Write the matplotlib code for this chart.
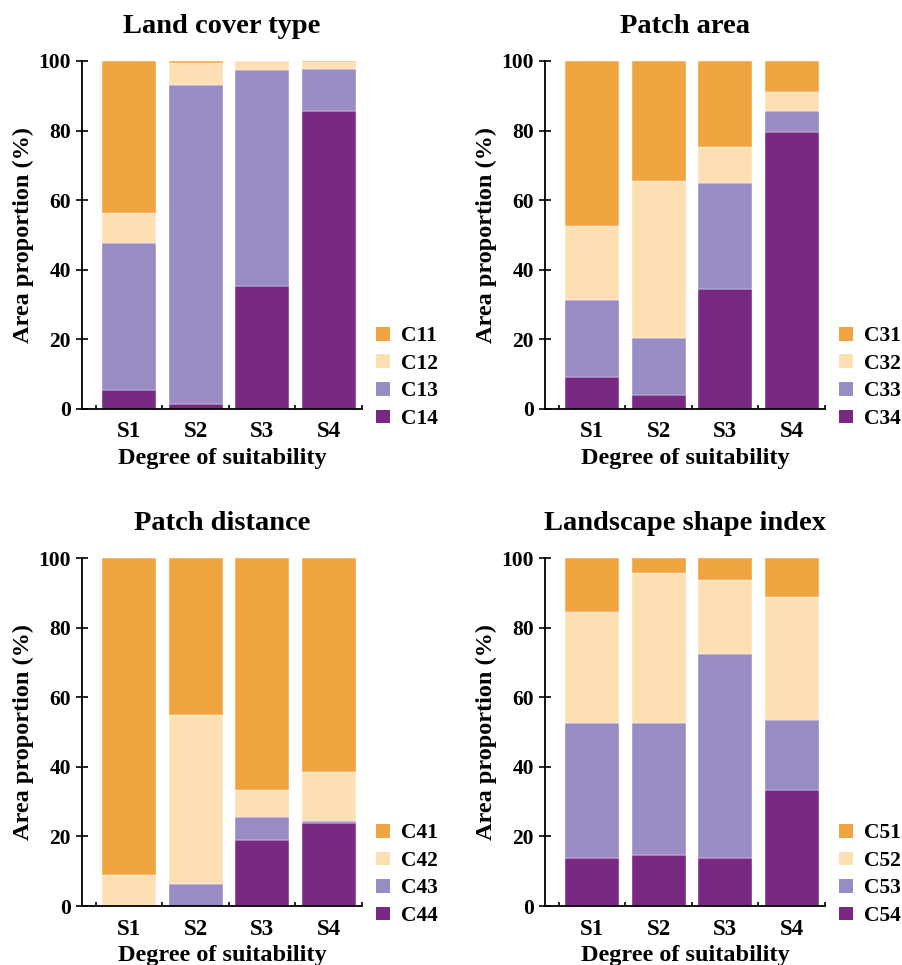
# Stacked area proportion by degree of suitability, four indicators

import numpy as np
import matplotlib.pyplot as plt
from matplotlib.ticker import FixedLocator
from matplotlib.patches import Patch

plt.rcParams['font.family'] = ['Liberation Serif', 'DejaVu Serif']
plt.rcParams['font.weight'] = 'bold'

degrees = ['S1', 'S2', 'S3', 'S4']
colors = ['#F0A440', '#FEDEB3', '#998BC4', '#782A82']  # top -> bottom

# Land cover type (segments listed top to bottom)
land_titles = ['C11', 'C12', 'C13', 'C14']
land_c11 = [43.7, 0.5, 0.0, 0.3]
land_c12 = [8.7, 6.5, 2.6, 2.1]
land_c13 = [42.1, 91.5, 62.0, 11.9]
land_c14 = [5.5, 1.5, 35.4, 85.7]

# Patch area
area_titles = ['C31', 'C32', 'C33', 'C34']
area_c31 = [47.4, 34.4, 24.6, 9.0]
area_c32 = [21.2, 45.1, 10.6, 5.4]
area_c33 = [22.2, 16.4, 30.4, 6.0]
area_c34 = [9.2, 4.1, 34.4, 79.6]

# Patch distance
dist_titles = ['C41', 'C42', 'C43', 'C44']
dist_c41 = [91.0, 45.1, 66.6, 61.6]
dist_c42 = [9.0, 48.6, 7.9, 14.1]
dist_c43 = [0.0, 6.3, 6.5, 0.3]
dist_c44 = [0.0, 0.0, 19.0, 24.0]

# Landscape shape index
shape_titles = ['C51', 'C52', 'C53', 'C54']
shape_c51 = [15.6, 4.3, 6.3, 11.2]
shape_c52 = [31.7, 43.1, 21.4, 35.4]
shape_c53 = [39.0, 37.8, 58.5, 20.0]
shape_c54 = [13.7, 14.8, 13.8, 33.4]

panels = [
    ('Land cover type', land_titles, [land_c11, land_c12, land_c13, land_c14]),
    ('Patch area', area_titles, [area_c31, area_c32, area_c33, area_c34]),
    ('Patch distance', dist_titles, [dist_c41, dist_c42, dist_c43, dist_c44]),
    ('Landscape shape index', shape_titles, [shape_c51, shape_c52, shape_c53, shape_c54]),
]

fig = plt.figure(figsize=(9.03, 9.65), dpi=100)
positions = [
    [0.0908, 0.5762, 0.310, 0.3606],
    [0.6035, 0.5762, 0.310, 0.3606],
    [0.0908, 0.0611, 0.310, 0.3606],
    [0.6035, 0.0611, 0.310, 0.3606],
]

x = np.arange(len(degrees))
for pos, (title, labels, series) in zip(positions, panels):
    ax = fig.add_axes(pos)
    # stack from the bottom segment upwards
    bottom = np.zeros(len(degrees))
    for vals, col in zip(series[::-1], colors[::-1]):
        ax.bar(x, vals, width=0.81, bottom=bottom, color=col,
               edgecolor='white', linewidth=0.3)
        bottom += np.array(vals)

    ax.set_xlim(-0.71, 3.5)
    ax.set_ylim(0, 100)
    ax.set_yticks([0, 20, 40, 60, 80, 100])
    ax.set_xticks(x)
    ax.set_xticklabels(degrees)
    ax.xaxis.set_minor_locator(FixedLocator([-0.5, 0.5, 1.5, 2.5, 3.5]))
    ax.tick_params(axis='x', which='major', length=0, pad=9, labelsize=16.5)
    ax.tick_params(axis='x', which='minor', direction='in', length=3, width=1.2)
    ax.tick_params(axis='y', direction='inout', length=8, width=1.2, labelsize=15.5, pad=4)
    for sp in ['top', 'right']:
        ax.spines[sp].set_visible(False)
    for sp in ['left', 'bottom']:
        ax.spines[sp].set_linewidth(1.3)

    ax.set_title(title, fontsize=20.5, fontweight='bold', pad=20)
    ax.set_xlabel('Degree of suitability', fontsize=17.5, fontweight='bold', labelpad=4)
    ax.set_ylabel('Area proportion (%)', fontsize=17.5, fontweight='bold', labelpad=3)

    handles = [Patch(facecolor=c, edgecolor='none') for c in colors]
    ax.legend(handles, labels, loc='center left', bbox_to_anchor=(1.05, 0.09),
              frameon=False, fontsize=15.5, handlelength=0.65, handleheight=0.6,
              handletextpad=0.5, labelspacing=0.35, borderpad=0, borderaxespad=0)

fig.savefig('out.png', dpi=100)
